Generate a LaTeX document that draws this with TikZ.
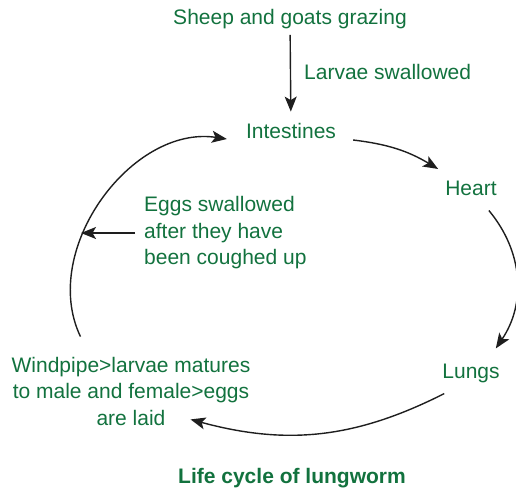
\documentclass[tikz,border=0pt]{standalone}
\usepackage{fontspec}
\setmainfont{Liberation Sans}
\usepackage{xcolor}
\usepackage{tikz}
\usetikzlibrary{arrows.meta}
\definecolor{leafgreen}{RGB}{18,114,62}
\definecolor{inkgrey}{RGB}{30,30,30}
\tikzset{
  lbl/.style  ={text=leafgreen, inner sep=0pt, font=\fontsize{21}{27}\selectfont},
  mlbl/.style ={lbl, font=\fontsize{21}{26.5}\selectfont},
  ttl/.style  ={lbl, font=\fontsize{21}{27}\selectfont\bfseries},
  ar/.style   ={-{Stealth[length=15pt,width=12pt,inset=3.5pt]}, draw=inkgrey, line width=1.4pt},
}

\begin{document}
\begin{tikzpicture}[x=1pt,y=-1pt]
\useasboundingbox (0,0) rectangle (516,491);
% ---------- host and stages ----------
\node[lbl] (sheep) at (290,19) {Sheep and goats grazing};
\node[lbl] (int) at (291,131) {Intestines};
\node[lbl] (heart) at (471,188) {Heart};
\node[lbl] (lungs) at (471,373) {Lungs};
\node[mlbl,align=center] (wind) at (131,391) {Windpipe>larvae matures\\to male and female>eggs\\are laid};

% ---------- side notes ----------
\node[lbl,anchor=west] (larvae) at (304,72) {Larvae swallowed};
\node[mlbl,align=left,anchor=west] (eggs) at (144,233) {Eggs swallowed\\after they have\\been coughed up};
\coordinate (cough) at (81,233);

% ---------- cycle ----------
\draw[ar,shorten <=6pt,shorten >=11.5pt] (sheep) -- (int);
\draw[ar] ([xshift=17pt,yshift=-9pt]int.east) to[bend left=12] ([xshift=-7pt,yshift=11.5pt]heart.north west);
\draw[ar] ([xshift=-8pt,yshift=-15pt]heart.south east) to[bend left=37] ([xshift=-4pt,yshift=15pt]lungs.north east);
\draw[ar] ([xshift=2pt,yshift=-11pt]lungs.south west) to[bend left=21] ([xshift=-60pt,yshift=6pt]wind.south east);
\draw[ar] ([xshift=69pt,yshift=20pt]wind.north west) to[bend left=62] ([xshift=-19pt,yshift=-8pt]int.west);
\draw[ar,shorten <=9pt] (eggs.west) -- (cough);

% ---------- caption ----------
\node[ttl] (title) at (292,478) {Life cycle of lungworm};
\end{tikzpicture}
\end{document}
